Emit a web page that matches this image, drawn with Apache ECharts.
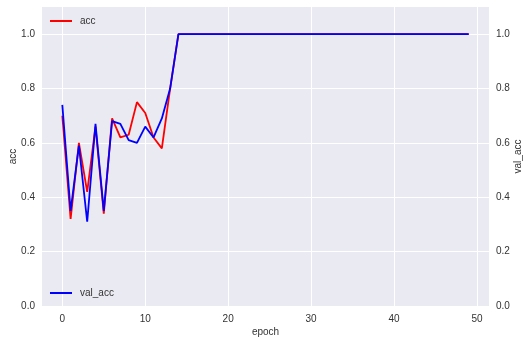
<!DOCTYPE html>
<html><head><meta charset="utf-8">
<script src="https://cdn.jsdelivr.net/npm/echarts@6/dist/echarts.min.js"></script>
<style>html,body{margin:0;padding:0;background:#fff}#c{width:530px;height:344px}</style>
</head><body><div id="c"></div>
<script>
var epochs = [];
for (var e = 0; e < 50; e++) epochs.push(e);
var accHead = [0.70, 0.32, 0.60, 0.42, 0.66, 0.34, 0.69, 0.62, 0.63, 0.75, 0.71, 0.62, 0.58, 0.80, 1.0];
var valAccHead = [0.74, 0.35, 0.59, 0.31, 0.67, 0.35, 0.68, 0.67, 0.61, 0.60, 0.66, 0.62, 0.69, 0.80, 1.0];
var accTail = [1.0,1.0,1.0,1.0,1.0,1.0,1.0,1.0,1.0,1.0,1.0,1.0,1.0,1.0,1.0,1.0,1.0,1.0,1.0,1.0,1.0,1.0,1.0,1.0,1.0,1.0,1.0,1.0,1.0,1.0,1.0,1.0,1.0,1.0,1.0];
var valAccTail = [1.0,1.0,1.0,1.0,1.0,1.0,1.0,1.0,1.0,1.0,1.0,1.0,1.0,1.0,1.0,1.0,1.0,1.0,1.0,1.0,1.0,1.0,1.0,1.0,1.0,1.0,1.0,1.0,1.0,1.0,1.0,1.0,1.0,1.0,1.0];
var xTicks = [0, 10, 20, 30, 40, 50];
var yTicks = [0.0, 0.2, 0.4, 0.6, 0.8, 1.0];

var acc = accHead.concat(accTail);
var valAcc = valAccHead.concat(valAccTail);
function pairs(vals){ return epochs.map(function(x,i){ return [x, vals[i]]; }); }

var txt = '#333';
var font = 'Liberation Sans, Arial, sans-serif';
var chart = echarts.init(document.getElementById('c'), null, {renderer:'canvas'});
chart.setOption({
  animation: false,
  textStyle: {fontFamily: font},
  grid: {left: 42, right: 41, top: 7, bottom: 38, show: true, backgroundColor: '#EAEAF2', borderWidth: 0,
         containLabel: false, outerBoundsMode: 'none'},
  legend: [
    {data: ['acc'], left: 45, top: 11, icon: 'rect', itemWidth: 22, itemHeight: 2, itemGap: 8,
     textStyle: {color: txt, fontSize: 10, fontFamily: font, padding: [0, 0, 0, 3]}},
    {data: ['val_acc'], left: 45, top: 283, icon: 'rect', itemWidth: 22, itemHeight: 2, itemGap: 8,
     textStyle: {color: txt, fontSize: 10, fontFamily: font, padding: [0, 0, 0, 3]}}
  ],
  xAxis: {
    type: 'value', min: -2.45, max: 51.45,
    name: 'epoch', nameLocation: 'middle', nameGap: 21, nameMoveOverlap: false,
    nameTextStyle: {color: txt, fontSize: 10, fontFamily: font},
    axisLine: {show: false}, axisTick: {show: false, customValues: xTicks},
    axisLabel: {customValues: xTicks, color: txt, fontSize: 10, margin: 8, fontFamily: font},
    splitLine: {show: true, lineStyle: {color: '#fff', width: 1}}
  },
  yAxis: [
    {type: 'value', min: 0, max: 1.1, position: 'left',
     name: 'acc', nameLocation: 'middle', nameGap: 24, nameRotate: 90, nameMoveOverlap: false,
     nameTextStyle: {color: txt, fontSize: 10, fontFamily: font},
     axisLine: {show: false}, axisTick: {show: false, customValues: yTicks},
     axisLabel: {customValues: yTicks, color: txt, fontSize: 10, margin: 7, fontFamily: font,
       formatter: function(v){ return v.toFixed(1); }},
     splitLine: {show: true, lineStyle: {color: '#fff', width: 1}}},
    {type: 'value', min: 0, max: 1.1, position: 'right',
     name: 'val_acc', nameLocation: 'middle', nameGap: 24, nameRotate: 90, nameMoveOverlap: false,
     nameTextStyle: {color: txt, fontSize: 10, fontFamily: font},
     axisLine: {show: false}, axisTick: {show: false, customValues: yTicks},
     axisLabel: {customValues: yTicks, color: txt, fontSize: 10, margin: 7, fontFamily: font,
       formatter: function(v){ return v.toFixed(1); }},
     splitLine: {show: false}}
  ],
  series: [
    {name: 'acc', type: 'line', yAxisIndex: 0, data: pairs(acc), showSymbol: false, symbol: 'none',
     lineStyle: {color: '#ff0000', width: 1.8}, itemStyle: {color: '#ff0000'}},
    {name: 'val_acc', type: 'line', yAxisIndex: 1, data: pairs(valAcc), showSymbol: false, symbol: 'none',
     lineStyle: {color: '#0000ff', width: 1.8}, itemStyle: {color: '#0000ff'}}
  ]
});
</script></body></html>
